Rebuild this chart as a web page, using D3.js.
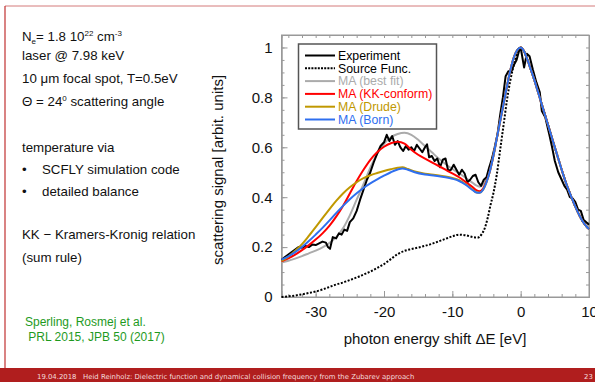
<!DOCTYPE html>
<html>
<head>
<meta charset="utf-8">
<script src="https://cdn.jsdelivr.net/npm/d3@7"></script>
<style>
  body { margin: 0; background: #fff; }
  svg { display: block; font-family: "Liberation Sans", Arial, sans-serif; }
  .axis line, .axis path { stroke: #999; }
</style>
</head>
<body>
<div id="chart"></div>
<script>
// photon energy shift [eV] vs. scattering signal [arbit. units]
var experiment = [[-35,0.148],[-34.5,0.16],[-34,0.17],[-33.5,0.18],[-33,0.19],[-32.5,0.2],[-32,0.197],[-31.5,0.205],
  [-31,0.2],[-30.5,0.21],[-30,0.208],[-29.5,0.215],[-29,0.222],[-28.5,0.218],[-28.2,0.2],[-27.9,0.193],[-27.5,0.24],
  [-27,0.235],[-26.6,0.255],[-26.2,0.25],[-25.8,0.27],[-25.4,0.265],[-25,0.3],[-24.5,0.315],[-24,0.345],[-23.5,0.39],
  [-23,0.43],[-22.5,0.47],[-22,0.5],[-21.5,0.54],[-21,0.575],[-20.5,0.605],[-20,0.62],[-19.6,0.65],[-19.2,0.625],
  [-18.8,0.645],[-18.4,0.61],[-18,0.625],[-17.6,0.6],[-17.2,0.585],[-16.8,0.605],[-16.4,0.59],[-16,0.6],[-15.6,0.585],
  [-15.2,0.61],[-14.8,0.595],[-14.4,0.58],[-14,0.6],[-13.7,0.612],[-13.4,0.56],[-13,0.565],[-12.6,0.545],[-12.2,0.555],
  [-11.8,0.52],[-11.4,0.55],[-11,0.555],[-10.6,0.505],[-10.2,0.51],[-9.8,0.53],[-9.4,0.51],[-9,0.49],[-8.6,0.51],
  [-8.2,0.495],[-7.8,0.46],[-7.4,0.47],[-7,0.485],[-6.6,0.49],[-6.2,0.46],[-5.8,0.445],[-5.4,0.47],[-5,0.48],
  [-4.6,0.52],[-4.2,0.555],[-3.8,0.6],[-3.4,0.65],[-3,0.73],[-2.6,0.8],[-2.2,0.885],[-1.8,0.905],[-1.4,0.9],
  [-1,0.93],[-0.6,0.95],[-0.2,0.99],[0,1.0],[0.5,0.92],[0.9,0.975],[1.3,0.965],[1.8,0.91],[2.3,0.86],[2.8,0.82],
  [3.1,0.745],[3.6,0.72],[4.2,0.65],[4.6,0.6],[5,0.545],[5.5,0.5],[6,0.47],[6.4,0.445],[6.8,0.43],[7.2,0.4],
  [7.6,0.395],[8,0.38],[8.4,0.35],[8.8,0.345],[9.2,0.31],[9.6,0.3],[10,0.29]];

var sourceFunc = [[-35,0],[-33,0.006],[-31,0.016],[-30,0.022],[-29,0.03],[-28,0.04],[-27,0.05],[-26,0.058],[-25,0.068],
  [-24,0.078],[-23,0.09],[-22,0.102],[-21,0.116],[-20,0.132],[-19,0.152],[-18,0.172],[-17,0.185],[-16,0.192],
  [-15,0.198],[-14,0.205],[-13,0.213],[-12,0.223],[-11,0.233],[-10,0.243],[-9,0.25],[-8,0.247],[-7,0.24],
  [-6.3,0.238],[-5.7,0.252],[-5.2,0.28],[-4.8,0.32],[-4.4,0.37],[-4,0.415],[-3.5,0.49],[-3,0.59],[-2.5,0.69],
  [-2,0.79],[-1.5,0.87],[-1,0.93],[-0.5,0.98],[0,1.0],[0.5,0.985],[1,0.95],[2,0.87],[3,0.78],[4,0.69],[5,0.6],
  [6,0.51],[7,0.43],[8,0.362],[9,0.307],[10,0.272]];

var bestFit = [[-35,0.138],[-34,0.145],[-33,0.154],[-32,0.164],[-31,0.175],[-30,0.186],[-29,0.199],[-28,0.216],
  [-27,0.24],[-26,0.275],[-25,0.327],[-24,0.39],[-23,0.452],[-22,0.518],[-21,0.574],[-20,0.614],[-19,0.64],
  [-18,0.653],[-17,0.658],[-16,0.65],[-15,0.63],[-14,0.605],[-13,0.58],[-12,0.555],[-11,0.533],[-10,0.513],
  [-9,0.496],[-8,0.477],[-7,0.457],[-6.5,0.447],[-6,0.442],[-5.5,0.45],[-5,0.475],[-4.5,0.512],[-4,0.565],
  [-3.5,0.635],[-3,0.705],[-2.5,0.775],[-2,0.845],[-1.5,0.91],[-1,0.96],[-0.5,0.99],[0,1.0],[0.5,0.985],[1,0.95],
  [1.5,0.91],[2,0.87],[2.5,0.825],[3,0.78],[3.5,0.735],[4,0.69],[4.5,0.645],[5,0.6],[5.5,0.555],[6,0.51],
  [6.5,0.468],[7,0.43],[7.5,0.395],[8,0.362],[8.5,0.332],[9,0.307],[9.5,0.287],[10,0.272]];

var kkConform = [[-35,0.143],[-34,0.155],[-33,0.17],[-32,0.188],[-31,0.208],[-30,0.23],[-29,0.255],[-28,0.285],
  [-27,0.322],[-26,0.365],[-25,0.415],[-24,0.465],[-23,0.51],[-22,0.55],[-21,0.58],[-20,0.602],[-19,0.616],
  [-18,0.622],[-17,0.615],[-16,0.59],[-15,0.57],[-14,0.555],[-13,0.54],[-12,0.525],[-11,0.51],[-10,0.495],
  [-9,0.48],[-8,0.46],[-7,0.44],[-6.5,0.428],[-6,0.424],[-5.5,0.435],[-5,0.463],[-4.5,0.505],[-4,0.565],
  [-3.5,0.635],[-3,0.705],[-2.5,0.775],[-2,0.845],[-1.5,0.91],[-1,0.96],[-0.5,0.99],[0,1.0],[0.5,0.985],[1,0.95],
  [1.5,0.91],[2,0.87],[2.5,0.825],[3,0.78],[3.5,0.735],[4,0.69],[4.5,0.645],[5,0.6],[5.5,0.555],[6,0.51],
  [6.5,0.468],[7,0.43],[7.5,0.395],[8,0.362],[8.5,0.332],[9,0.307],[9.5,0.287],[10,0.272]];

var drude = [[-35,0.145],[-34,0.162],[-33,0.185],[-32,0.212],[-31,0.245],[-30,0.28],[-29,0.316],[-28,0.351],
  [-27,0.385],[-26,0.415],[-25,0.44],[-24,0.46],[-23,0.476],[-22,0.488],[-21,0.497],[-20,0.505],[-19,0.512],
  [-18,0.518],[-17.3,0.52],[-16.5,0.513],[-15.5,0.503],[-14,0.494],[-12.5,0.489],[-11,0.483],[-10,0.477],
  [-9,0.468],[-8,0.451],[-7,0.43],[-6.5,0.42],[-6,0.418],[-5.5,0.43],[-5,0.46],[-4.5,0.505],[-4,0.565],
  [-3.5,0.635],[-3,0.705],[-2.5,0.775],[-2,0.845],[-1.5,0.91],[-1,0.96],[-0.5,0.99],[0,1.0],[0.5,0.985],[1,0.95],
  [1.5,0.91],[2,0.87],[2.5,0.825],[3,0.78],[3.5,0.735],[4,0.69],[4.5,0.645],[5,0.6],[5.5,0.555],[6,0.51],
  [6.5,0.468],[7,0.43],[7.5,0.395],[8,0.362],[8.5,0.332],[9,0.307],[9.5,0.287],[10,0.272]];

var born = [[-35,0.15],[-34,0.163],[-33,0.18],[-32,0.2],[-31,0.224],[-30,0.25],[-29,0.277],[-28,0.306],[-27,0.336],
  [-26,0.365],[-25,0.392],[-24,0.416],[-23,0.437],[-22,0.455],[-21,0.471],[-20,0.486],[-19,0.5],[-18,0.511],
  [-17.3,0.515],[-16.5,0.51],[-15.5,0.5],[-14,0.491],[-12.5,0.486],[-11,0.48],[-10,0.474],[-9,0.465],[-8,0.449],
  [-7,0.428],[-6.5,0.419],[-6,0.418],[-5.5,0.43],[-5,0.46],[-4.5,0.505],[-4,0.565],[-3.5,0.635],[-3,0.705],
  [-2.5,0.775],[-2,0.845],[-1.5,0.91],[-1,0.96],[-0.5,0.99],[0,1.0],[0.5,0.985],[1,0.95],[1.5,0.91],[2,0.87],
  [2.5,0.825],[3,0.78],[3.5,0.735],[4,0.69],[4.5,0.645],[5,0.6],[5.5,0.555],[6,0.51],[6.5,0.468],[7,0.43],
  [7.5,0.395],[8,0.362],[8.5,0.332],[9,0.307],[9.5,0.287],[10,0.272]];

var legendLabels = ["Experiment", "Source Func.", "MA (best fit)", "MA (KK-conform)", "MA (Drude)", "MA (Born)"];
var xTicks = [-30, -20, -10, 0, 10];
var yTicks = [0, 0.2, 0.4, 0.6, 0.8, 1];

var infoLines = ["laser @ 7.98 keV", "10 \u03bcm focal spot, T=0.5eV"];
var noteLines = ["temperature via", "SCFLY simulation code", "detailed balance", "KK \u2212 Kramers-Kronig relation", "(sum rule)"];
var refLines = ["Sperling, Rosmej et al.", " PRL 2015, JPB 50 (2017)"];
var footerText = "19.04.2018   Heid Reinholz: Dielectric function and dynamical collision frequency from the Zubarev approach";

var W = 595, H = 382;
var svg = d3.select("#chart").append("svg").attr("width", W).attr("height", H);

// slide frame
svg.append("line").attr("x1", 5).attr("x2", W).attr("y1", 6).attr("y2", 6)
  .attr("stroke", "#d47a7a").attr("stroke-width", 1);
svg.append("line").attr("x1", 5).attr("x2", 5).attr("y1", 6).attr("y2", 368)
  .attr("stroke", "#c03030").attr("stroke-width", 1.2);
svg.append("rect").attr("x", 0).attr("y", 368).attr("width", W).attr("height", 14).attr("fill", "#b01e1e");
svg.append("text").attr("x", 37).attr("y", 378.5).attr("font-family", "DejaVu Sans").attr("font-size", 6.9)
  .attr("fill", "#f4dcdc").attr("xml:space", "preserve").text(footerText);
svg.append("text").attr("x", 584).attr("y", 378.5).attr("font-family", "DejaVu Sans").attr("font-size", 6.9)
  .attr("fill", "#f4dcdc").text("23");

// left text
var tx = 22, fs = 13.3;
var t0 = svg.append("text").attr("x", tx).attr("y", 41).attr("font-size", fs).attr("fill", "#111");
t0.append("tspan").text("N");
t0.append("tspan").attr("font-size", 8).attr("dy", 3).text("e");
t0.append("tspan").attr("dy", -3).text("= 1.8 10");
t0.append("tspan").attr("font-size", 8).attr("dy", -5).text("22");
t0.append("tspan").attr("dy", 5).text(" cm");
t0.append("tspan").attr("font-size", 8).attr("dy", -5).text("-3");

svg.selectAll(".info").data(infoLines).enter().append("text")
  .attr("x", tx).attr("y", function (d, i) { return 60 + i * 23; })
  .attr("font-size", fs).attr("fill", "#111").text(function (d) { return d; });

var t3 = svg.append("text").attr("x", tx).attr("y", 106).attr("font-size", fs).attr("fill", "#111");
t3.append("tspan").text("\u0398 = 24");
t3.append("tspan").attr("font-size", 8).attr("dy", -5).text("0");
t3.append("tspan").attr("dy", 5).text(" scattering angle");

var noteY = [152, 174, 196, 239, 262];
svg.selectAll(".note").data(noteLines).enter().append("text")
  .attr("x", function (d, i) { return (i === 1 || i === 2) ? 42 : tx; })
  .attr("y", function (d, i) { return noteY[i]; })
  .attr("font-size", fs).attr("fill", "#111").text(function (d) { return d; });
svg.selectAll(".bullet").data([174, 196]).enter().append("text")
  .attr("x", tx).attr("y", function (d) { return d; })
  .attr("font-size", fs).attr("fill", "#111").text("\u2022");

svg.selectAll(".ref").data(refLines).enter().append("text")
  .attr("x", 25).attr("y", function (d, i) { return 326 + i * 15; })
  .attr("xml:space", "preserve")
  .attr("font-size", 12).attr("fill", "#1e9a1e").text(function (d) { return d; });

// plot area
var plotL = 281.5, plotR = 589, plotT = 35, plotB = 297;
var x = d3.scaleLinear().domain([-35, 10]).range([plotL, plotR]);
var y = d3.scaleLinear().domain([0, 1.05]).range([plotB, plotT]);

var g = svg.append("g");
g.append("rect").attr("x", plotL).attr("y", plotT).attr("width", plotR - plotL).attr("height", plotB - plotT)
  .attr("fill", "none").attr("stroke", "#999").attr("stroke-width", 1);

var xMinor = d3.range(-34, 10.01, 2);
var yMinor = d3.range(0.05, 1.04, 0.05);

// ticks pointing inward on all four sides
g.append("g").attr("class", "axis").attr("transform", "translate(0," + plotB + ")")
  .call(d3.axisBottom(x).tickValues(xMinor).tickSize(-3).tickFormat(""));
g.append("g").attr("class", "axis").attr("transform", "translate(0," + plotB + ")")
  .call(d3.axisBottom(x).tickValues(xTicks).tickSize(-6).tickPadding(9).tickFormat(function (d) { return String(d); }));
g.append("g").attr("class", "axis").attr("transform", "translate(0," + plotT + ")")
  .call(d3.axisTop(x).tickValues(xMinor).tickSize(-3).tickFormat(""));
g.append("g").attr("class", "axis").attr("transform", "translate(" + plotL + ",0)")
  .call(d3.axisLeft(y).tickValues(yMinor).tickSize(-3).tickFormat(""));
g.append("g").attr("class", "axis").attr("transform", "translate(" + plotL + ",0)")
  .call(d3.axisLeft(y).tickValues(yTicks).tickSize(-6).tickPadding(9)
    .tickFormat(function (d) { return (d === 0 || d === 1) ? String(d) : d.toFixed(1); }));
g.append("g").attr("class", "axis").attr("transform", "translate(" + plotR + ",0)")
  .call(d3.axisRight(y).tickValues(yMinor).tickSize(-3).tickFormat(""));
g.selectAll(".axis path").attr("stroke", "none");
g.selectAll(".axis text").attr("font-family", "Liberation Sans, Arial, sans-serif")
  .attr("font-size", 15).attr("fill", "#111");

// axis titles
svg.append("text").attr("x", 435).attr("y", 344).attr("text-anchor", "middle")
  .attr("font-size", 15).attr("fill", "#111").text("photon energy shift \u0394E [eV]");
svg.append("text").attr("transform", "translate(223,170) rotate(-90)").attr("text-anchor", "middle")
  .attr("font-size", 15).attr("fill", "#111").text("scattering signal [arbit. units]");

// curves
var smooth = d3.line().x(function (d) { return x(d[0]); }).y(function (d) { return y(d[1]); })
  .curve(d3.curveMonotoneX);
var raw = d3.line().x(function (d) { return x(d[0]); }).y(function (d) { return y(d[1]); });

var series = [
  { data: bestFit, color: "#ababab", line: smooth, dash: null },
  { data: experiment, color: "#000", line: raw, dash: null },
  { data: sourceFunc, color: "#000", line: smooth, dash: "2,1.6" },
  { data: kkConform, color: "#ff0000", line: smooth, dash: null },
  { data: drude, color: "#c09800", line: smooth, dash: null },
  { data: born, color: "#2f6fef", line: smooth, dash: null }
];
g.selectAll(".curve").data(series).enter().append("path")
  .attr("class", "curve")
  .attr("d", function (d) { return d.line(d.data); })
  .attr("fill", "none")
  .attr("stroke", function (d) { return d.color; })
  .attr("stroke-width", 2)
  .attr("stroke-linejoin", "round")
  .attr("stroke-dasharray", function (d) { return d.dash; });

// legend
var legendColors = ["#000", "#000", "#ababab", "#ff0000", "#c09800", "#2f6fef"];
var lg = svg.append("g");
lg.append("rect").attr("x", 298.5).attr("y", 44).attr("width", 138).attr("height", 85)
  .attr("fill", "#fff").attr("stroke", "#555").attr("stroke-width", 1.5);
var rows = lg.selectAll(".row").data(legendLabels).enter().append("g")
  .attr("transform", function (d, i) { return "translate(0," + (55.5 + i * 12.8) + ")"; });
rows.append("line").attr("x1", 305).attr("x2", 335).attr("y1", 0).attr("y2", 0)
  .attr("stroke", function (d, i) { return legendColors[i]; }).attr("stroke-width", 2)
  .attr("stroke-dasharray", function (d, i) { return i === 1 ? "2,1.2" : null; });
rows.append("text").attr("x", 338).attr("y", 4.3).attr("font-size", 12.3)
  .attr("fill", function (d, i) { return legendColors[i]; }).text(function (d) { return d; });
</script>
</body>
</html>
